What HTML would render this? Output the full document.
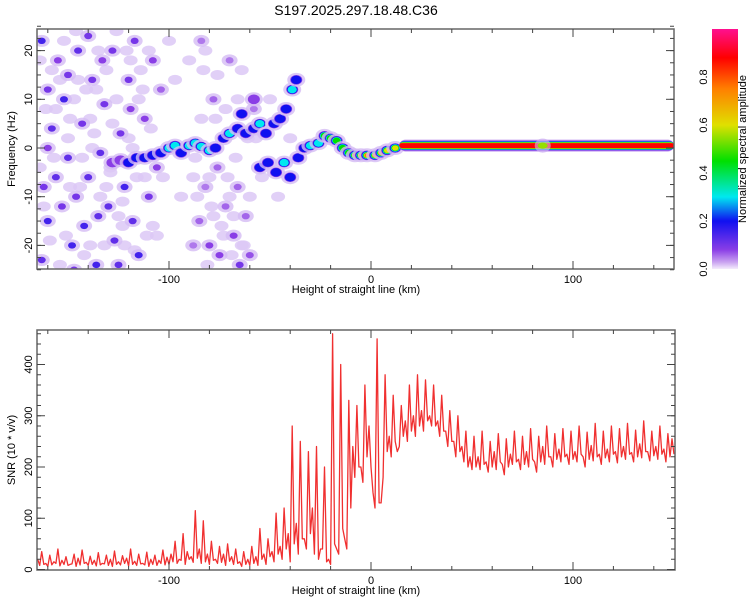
<!DOCTYPE html>
<html><head><meta charset="utf-8">
<style>
html,body{margin:0;padding:0;background:#fff;}
svg{display:block;font-family:"Liberation Sans",sans-serif;}
</style></head>
<body>
<svg id="chart" width="750" height="600" viewBox="0 0 750 600" xmlns="http://www.w3.org/2000/svg">
<defs>
<linearGradient id="cbar" x1="0" y1="1" x2="0" y2="0">
<stop offset="0" stop-color="#f4ecfc"/>
<stop offset="0.03" stop-color="#c8a0f0"/>
<stop offset="0.08" stop-color="#8a3ee6"/>
<stop offset="0.2" stop-color="#1010f0"/>
<stop offset="0.3" stop-color="#00e8f0"/>
<stop offset="0.45" stop-color="#00e000"/>
<stop offset="0.6" stop-color="#e0e000"/>
<stop offset="0.75" stop-color="#ff8000"/>
<stop offset="0.88" stop-color="#ff0000"/>
<stop offset="1" stop-color="#ff1090"/>
</linearGradient>
<clipPath id="clipTop"><rect x="37" y="29" width="637" height="240"/></clipPath>
<clipPath id="clipBot"><rect x="37" y="330" width="638" height="240"/></clipPath>
</defs>
<text x="356" y="15" font-size="14" text-anchor="middle" fill="#000">S197.2025.297.18.48.C36</text>
<g id="specLayer" clip-path="url(#clipTop)"></g>
<g id="topAxes"></g>
<g id="botLayer" clip-path="url(#clipBot)"></g>
<g id="botAxes"></g>
<rect x="712" y="29" width="26" height="240" fill="url(#cbar)"/>
<g id="cbarAxis"></g>
<text transform="translate(746,149) rotate(-90)" font-size="11" text-anchor="middle">Normalized spectral amplitude</text>
<text x="356" y="293" font-size="11" text-anchor="middle">Height of straight line (km)</text>
<text transform="translate(15,149) rotate(-90)" font-size="11" text-anchor="middle">Frequency (Hz)</text>
<text x="356" y="594" font-size="11" text-anchor="middle">Height of straight line (km)</text>
<text transform="translate(15,450) rotate(-90)" font-size="11" text-anchor="middle">SNR (10 * v/v)</text>
</svg>
<script>
// ---- data ----
const snrStart = -165;
const snrStep = 2;
const snrValues = [20,35,12,28,15,40,18,25,10,30,22,38,14,26,18,33,12,28,20,36,15,27,22,40,16,30,12,34,20,28,18,38,24,
30,55,20,70,35,25,115,40,
95,30,55,20,45,30,50,25,40,15,35,20,
45,25,80,30,60,35,110,45,120,70,
280,90,250,60,230,
120,240,40,200,20,
460,40,
400,60,330,
240,320,200,360,280,
150,450,130,
380,260,340,230,320,290,360,300,380,310,370,300,
360,290,340,270,310,250,300,240,270,220,
260,220,270,210,250,230,265,205,255,225,270,215,260,230,275,210,260,240,280,220,265,235,275,225,270,230,280,220,268,242,285,225,270,235,280,230,275,240,285,228,272,245,290,230,270,240,280,235,265,255];
const snrLow = [8,10,6,9,12,7,10,8,11,6,9,12,8,10,7,9,11,8,6,10,9,12,7,10,8,11,9,6,10,8,12,9,10,
15,12,18,10,20,14,22,12,
15,10,18,12,14,8,16,10,12,6,10,8,
12,8,20,10,25,15,30,20,40,15,
50,30,60,40,70,
30,20,40,15,10,
50,30,
80,40,120,
180,200,170,220,200,
120,130,180,
230,220,250,240,260,250,270,260,280,270,290,280,
280,260,270,240,250,220,230,210,200,195,
200,195,205,190,200,195,210,185,200,205,210,195,205,200,215,190,210,205,220,200,215,210,220,205,215,210,225,200,215,212,220,205,218,210,225,208,220,215,225,210,220,218,230,212,222,215,225,210,220,225];
const bgBlobX = [-163,-160,-158,-162,-160,-163,-155,-152,-150,-153,-148,-145,-143,-140,-142,-138,-136,-134,-132,-130,-128,-127,-124,-122,-120,-118,-117,-115,-112,-110,-108,-106,-146,-156,-150,-125,-140,-133,-121,-160,-135,-147,-119,-104,-85,-80,-82,-78,-75,-72,-70,-68,-65,-62,-84,-88,-60,-76,-66,-58];
const bgBlobF = [22,12,4,-8,-15,-23,18,10,-2,-12,-20,20,5,-6,-16,14,-24,-1,9,-12,20,-19,3,-8,14,-15,22,-22,6,-10,18,-4,-10,-6,15,-24,23,18,-3,0,-14,-25,8,12,-15,-20,-8,10,-22,-12,18,-18,-24,-14,22,-20,-22,-4,-8,8];
const bgBlobA = [.15,.1,.12,.1,.15,.12,.08,.15,.12,.1,.15,.12,.1,.12,.15,.1,.15,.12,.1,.12,.1,.12,.1,.15,.1,.12,.1,.15,.08,.1,.08,.08,.1,.12,.1,.12,.1,.08,.1,.08,.12,.1,.08,.06,.06,.08,.05,.06,.08,.06,.05,.08,.1,.06,.05,.05,.07,.06,.06,.05];
const lightBlobX = [-164,-161,-157,-154,-151,-149,-146,-144,-141,-139,-137,-134,-131,-129,-126,-123,-121,-118,-116,-113,-111,-109,-164,-159,-156,-152,-149,-145,-142,-138,-135,-131,-128,-125,-122,-119,-115,-112,-108,-162,-158,-154,-150,-147,-143,-139,-136,-132,-129,-126,-123,-120,-117,-114,-110,-106,-103,-100,-97,-94,-90,-87,-84,-81,-79,-76,-73,-71,-68,-66,-63,-61,-86,-83,-80,-77,-74,-70,-67,-64,-88,-82,-78,-72,-69,-64,-60,-57,-54,-50,-46,-40];
const lightBlobF = [18,8,-2,14,-18,6,24,-8,12,-20,3,-10,16,-4,10,-16,20,0,-6,12,-18,4,-4,-19,8,22,-8,14,-22,0,20,-8,5,-14,-20,18,10,-6,-16,-12,16,-24,2,10,-2,6,12,-20,-5,24,-11,2,-21,16,20,-18,-6,22,14,-10,18,-2,6,-24,-12,15,-18,-6,-14,10,-20,2,-10,16,-6,6,-16,-10,-2,-20,-6,20,-14,8,-22,16,-10,2,-6,10,-10,2];
const ridgeX = [-128,-124,-120,-116,-112,-108,-104,-100,-97,-94,-90,-87,-84,-80,-77,-73,-70,-66,-62,-58,-55,-52,-48,-45,-42,-39,-37,-64,-58,-55,-51,-47,-43,-40,-36,-33,-30,-26,-23,-20,-17,-14,-11,-8,-5,-2,2,5,8,12,85];
const ridgeF = [-3,-2.5,-3,-2,-2,-1.5,-1,0,0.5,-1,0.5,1,0.3,-0.5,0,2,3,4,3,4,5,3,5,6,8,12,14,7,10,-4,-3,-5,-3,-6,-2,0,0.5,1,2.5,2,1.5,0,-1,-1.5,-1.5,-1.5,-1.5,-1,-0.5,0,0.5];
const ridgeA = [.15,.18,.2,.22,.25,.22,.2,.3,.32,.25,.4,.3,.38,.3,.25,.25,.32,.2,.22,.28,.3,.2,.25,.2,.22,.3,.2,.2,.18,.25,.2,.2,.35,.2,.2,.25,.3,.35,.5,.45,.5,.45,.5,.8,.85,.85,.8,.75,.7,.65,.55];
const bandStart = 14, bandEnd = 150, bandF = 0.5, bandA = 0.9;
const xTickLabels = [-100, 0, 100];
const freqTickLabels = [-20, -10, 0, 10, 20];
const snrTickLabels = [0, 100, 200, 300, 400];
const cbarTickLabels = [0.0, 0.2, 0.4, 0.6, 0.8];

// ---- scales ----
const NS = "http://www.w3.org/2000/svg";
const xKm = v => 371 + (v) * 2.02;
const yHz = f => 148 - f * 4.87;
const ySnr = s => 569.5 - s * 0.5125;
const yCb = a => 269 - a * 240;

function colorOf(a){
  const stops=[[0,[244,236,252]],[0.03,[200,160,240]],[0.08,[138,62,230]],[0.2,[16,16,240]],[0.3,[0,232,240]],[0.45,[0,224,0]],[0.6,[224,224,0]],[0.75,[255,128,0]],[0.88,[255,0,0]],[1,[255,16,144]]];
  for(let i=1;i<stops.length;i++){ if(a<=stops[i][0]){const[a0,c0]=stops[i-1],[a1,c1]=stops[i];const t=(a-a0)/(a1-a0);return `rgb(${c0.map((c,k)=>Math.round(c+(c1[k]-c)*t)).join(',')})`;}}
  return 'rgb(255,16,144)';
}
function mk(tag, attrs, parent){const e=document.createElementNS(NS,tag);for(const k in attrs)e.setAttribute(k,attrs[k]);parent.appendChild(e);return e;}

const spec = document.getElementById('specLayer');
lightBlobX.forEach((x,i)=>{
  const h=mk('ellipse',{cx:xKm(x),cy:yHz(lightBlobF[i]),rx:7,ry:5,fill:'#dcc8f6','fill-opacity':0.85},spec);
  
  
});
bgBlobX.forEach((x,i)=>{
  const cx=xKm(x), cy=yHz(bgBlobF[i]);
  const h=mk('ellipse',{cx:cx,cy:cy,rx:8,ry:6,fill:'#d4bcf4','fill-opacity':0.8},spec);
  
  
  const c=mk('ellipse',{cx:cx,cy:cy,rx:4,ry:3.2,fill:colorOf(bgBlobA[i])},spec);
  
  
});
const ridgeLevels=[0.08,0.2,0.3,0.45,0.6,0.75,0.88];
ridgeX.forEach((x,i)=>{
  const cx=xKm(x), cy=yHz(ridgeF[i]), a=ridgeA[i];
  const h=mk('ellipse',{cx:cx,cy:cy,rx:9,ry:7,fill:'#d4bcf4','fill-opacity':0.8},spec);
  
  
  let rx=6, ry=4.8;
  ridgeLevels.forEach(lv=>{
    if(lv>a) return;
    const e=mk('ellipse',{cx:cx,cy:cy,rx:rx,ry:ry,fill:colorOf(lv)},spec);
    
    
    rx=Math.max(2,rx-0.7); ry=Math.max(1.6,ry-0.55);
  });
});
const bandLevels=[0.03,0.08,0.2,0.3,0.45,0.6,0.88];
const bandH=[12,10,9,8,7,6,5];
bandLevels.forEach((lv,k)=>{
  if(lv>bandA) return;
  const r=mk('rect',{x:xKm(bandStart),y:yHz(bandF)-bandH[k]/2,width:xKm(bandEnd)-xKm(bandStart),height:bandH[k],rx:bandH[k]/2,fill:colorOf(lv)},spec);
  
  
});
{
  const cx=xKm(ridgeX[ridgeX.length-1]), cy=yHz(ridgeF[ridgeF.length-1]);
  const h=mk('ellipse',{cx:cx,cy:cy,rx:8,ry:7,fill:'#d4bcf4','fill-opacity':0.6},spec);
  
  
  const g=mk('ellipse',{cx:cx,cy:cy,rx:5,ry:3,fill:colorOf(ridgeA[ridgeA.length-1])},spec);
  
  
}

function frame(g,x0,y0,x1,y1,yTicks,yMinorStep,yScale,yMin,yMax){
  const ax=mk('rect',{x:x0,y:y0,width:x1-x0,height:y1-y0,fill:'none',stroke:'#666','stroke-width':1.5},g);
  
  
  for(let v=-160; v<=150; v+=20){
    const px=xKm(v); const L=(v%100===0)?8:4;
    mk('line',{x1:px,y1:y1,x2:px,y2:y1-L,stroke:'#444','stroke-width':1},g);
    mk('line',{x1:px,y1:y0,x2:px,y2:y0+L,stroke:'#444','stroke-width':1},g);
  }
  xTickLabels.forEach(v=>{
    const t=mk('text',{x:xKm(v),y:y1+14,'font-size':11,'text-anchor':'middle'},g);
    t.textContent=v;
    
    
  });
  for(let v=Math.ceil(yMin/yMinorStep)*yMinorStep; v<=yMax; v+=yMinorStep){
    const py=yScale(v);
    mk('line',{x1:x0,y1:py,x2:x0+4,y2:py,stroke:'#444','stroke-width':1},g);
    mk('line',{x1:x1,y1:py,x2:x1-4,y2:py,stroke:'#444','stroke-width':1},g);
  }
  yTicks.forEach(v=>{
    const py=yScale(v);
    mk('line',{x1:x0,y1:py,x2:x0+8,y2:py,stroke:'#444','stroke-width':1},g);
    mk('line',{x1:x1,y1:py,x2:x1-8,y2:py,stroke:'#444','stroke-width':1},g);
    const t=mk('text',{transform:`translate(${x0-5},${py}) rotate(-90)`,'font-size':11,'text-anchor':'middle'},g);
    t.textContent=v;
    
    
  });
}
frame(document.getElementById('topAxes'),37,29,674,269,freqTickLabels,2.5,yHz,-25,25);
frame(document.getElementById('botAxes'),37,330,675,570,snrTickLabels,20,ySnr,0,460);

const snrPts=[];
snrValues.forEach((s,i)=>{
  const x=snrStart+i*snrStep;
  snrPts.push(`${xKm(x).toFixed(1)},${ySnr(s).toFixed(1)}`);
  snrPts.push(`${xKm(x+snrStep/2).toFixed(1)},${ySnr(snrLow[i]).toFixed(1)}`);
});
const line=mk('polyline',{points:snrPts.join(' '),fill:'none',stroke:'#f03030','stroke-width':1.3,'stroke-linejoin':'round'},document.getElementById('botLayer'));



const cb=document.getElementById('cbarAxis');
cbarTickLabels.forEach(v=>{
  const t=mk('text',{transform:`translate(707,${yCb(v)}) rotate(-90)`,'font-size':11,'text-anchor':'middle'},cb);
  t.textContent=v.toFixed(1);
  
  
});
</script>
</body></html>
